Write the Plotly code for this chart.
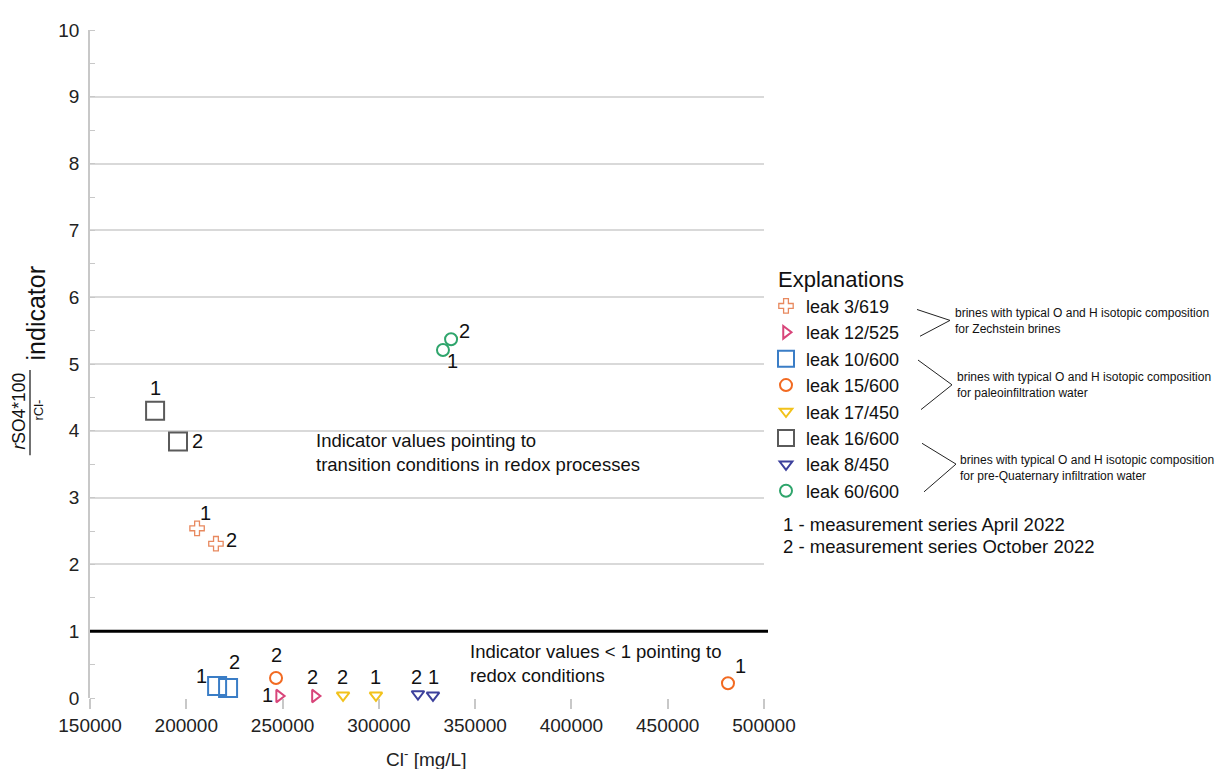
import plotly.graph_objects as go

# ---- data ----
leaks = ["leak 3/619", "leak 12/525", "leak 10/600", "leak 15/600",
         "leak 17/450", "leak 16/600", "leak 8/450", "leak 60/600"]
# measurement series 1 (April 2022)
cl_april = [205600, 248200, 216000, 481300, 298500, 183800, 328100, 333300]
ind_april = [2.54, 0.03, 0.18, 0.22, 0.04, 4.30, 0.04, 5.21]
# measurement series 2 (October 2022)
cl_october = [215400, 266800, 221700, 246600, 281400, 195700, 320300, 337500]
ind_october = [2.31, 0.03, 0.15, 0.30, 0.04, 3.84, 0.06, 5.37]
series_labels = ["1", "2"]
x_ticks = [150000, 200000, 250000, 300000, 350000, 400000, 450000, 500000]
y_ticks = list(range(0, 11))

# ---- styles ----
symbols = ["cross-open", "triangle-right-open", "square-open", "circle-open",
           "triangle-down-open", "square-open", "triangle-down-open", "circle-open"]
colors = ["#E8895F", "#D8457A", "#3A7DC6", "#F26A21",
          "#F2C21B", "#5A5A5A", "#3C409C", "#2FA56C"]
sizes = [12, 11, 18, 12, 11, 18, 11, 12]
lwidths = [1.3, 2, 2, 2, 2, 2, 2, 2]
# label offsets in px (dx, dy screen-down) for series 1 and 2
off1 = [(8, -15), (-12, -1), (-16, -10), (13, -17), (0, -18), (0, -23), (1, -18), (10, 11)]
off2 = [(16, -4), (-2, -19), (6, -26), (0, -23), (-1, -18), (19, 0), (-1, -17), (13, -8)]

FONT = "Liberation Sans, Arial, sans-serif"
OFF = 8  # page body margin
W, H = 1224 - OFF, 769 - OFF
L, T = 90 - OFF, 24 - OFF
PW, PH = 674, 674
R, B = W - L - PW, H - T - PH


def px(x):
    # page pixel x -> paper coordinate
    return (x - OFF - L) / PW


def py(y):
    # page pixel y -> paper coordinate
    return (T + PH - (y - OFF)) / PH


fig = go.Figure()
annotations = []
for i, name in enumerate(leaks):
    fig.add_trace(go.Scatter(
        x=[cl_april[i], cl_october[i]], y=[ind_april[i], ind_october[i]],
        mode="markers", name=name, legendgroup=name, cliponaxis=False,
        marker=dict(symbol=symbols[i], size=sizes[i], color=colors[i],
                    line=dict(color=colors[i], width=lwidths[i])),
    ))
    for (xv, yv, lab, off) in [(cl_april[i], ind_april[i], series_labels[0], off1[i]),
                               (cl_october[i], ind_october[i], series_labels[1], off2[i])]:
        annotations.append(dict(x=xv, y=yv, xref="x", yref="y", text=lab,
                                showarrow=False, xshift=off[0], yshift=-off[1],
                                font=dict(family=FONT, size=20, color="#111")))

# threshold line
shapes = [dict(type="line", xref="paper", yref="y", x0=0, x1=px(768), y0=1, y1=1,
               line=dict(color="black", width=3))]

# text annotations in plot
annotations += [
    dict(xref="paper", yref="paper", x=px(314), y=py(450), xanchor="left", yanchor="middle",
         align="left", showarrow=False,
         text="Indicator values pointing to<br>transition conditions in redox processes",
         font=dict(family=FONT, size=18.5, color="#111")),
    dict(xref="paper", yref="paper", x=px(468), y=py(663), xanchor="left", yanchor="middle",
         align="left", showarrow=False,
         text="Indicator values < 1 pointing to<br>redox conditions",
         font=dict(family=FONT, size=18.5, color="#111")),
]

# y-axis title as fraction
annotations += [
    dict(xref="paper", yref="paper", x=px(19), y=py(409), textangle=-90, showarrow=False,
         xanchor="center", yanchor="middle", text="<i>r</i>SO4*100",
         font=dict(family=FONT, size=17.5, color="#111")),
    dict(xref="paper", yref="paper", x=px(39), y=py(408), textangle=-90, showarrow=False,
         xanchor="center", yanchor="middle", text="rCl-",
         font=dict(family=FONT, size=13, color="#111")),
    dict(xref="paper", yref="paper", x=px(36), y=py(310), textangle=-90, showarrow=False,
         xanchor="center", yanchor="middle", text="indicator",
         font=dict(family=FONT, size=25, color="#111")),
]
shapes.append(dict(type="line", xref="paper", yref="paper", x0=px(30), x1=px(30),
                   y0=py(367), y1=py(453), line=dict(color="#111", width=1.2)))

# x-axis title
annotations.append(dict(xref="paper", yref="paper", x=px(426), y=py(759), showarrow=False,
                        xanchor="center", yanchor="middle", text="Cl<sup>-</sup> [mg/L]",
                        font=dict(family=FONT, size=19, color="#222")))

# legend extras
annotations.append(dict(xref="paper", yref="paper", x=px(776), y=py(276), showarrow=False,
                        xanchor="left", yanchor="middle", text="Explanations",
                        font=dict(family=FONT, size=22, color="#111")))
annotations += [
    dict(xref="paper", yref="paper", x=px(781), y=py(523), showarrow=False, xanchor="left",
         yanchor="middle", text="1 - measurement series April 2022",
         font=dict(family=FONT, size=18.5, color="#111")),
    dict(xref="paper", yref="paper", x=px(781), y=py(545), showarrow=False, xanchor="left",
         yanchor="middle", text="2 - measurement series October 2022",
         font=dict(family=FONT, size=18.5, color="#111")),
]
brackets = [((917, 306), (950, 317), (920, 333), 953, 318,
             "brines with typical O and H isotopic composition<br>for Zechstein brines"),
            ((918, 357), (952, 382), (921, 407), 955, 382,
             "brines with typical O and H isotopic composition<br>for paleoinfiltration water"),
            ((922, 441), (956, 462), (924, 490), 958, 466,
             "brines with typical O and H isotopic composition<br>for pre-Quaternary infiltration water")]
for a, b, c, tx, ty, txt in brackets:
    shapes.append(dict(type="path", xref="paper", yref="paper",
                       path=f"M {px(a[0])} {py(a[1])} L {px(b[0])} {py(b[1])} L {px(c[0])} {py(c[1])}",
                       line=dict(color="#222", width=1)))
    annotations.append(dict(xref="paper", yref="paper", x=px(tx), y=py(ty), showarrow=False,
                            xanchor="left", yanchor="middle", align="left", text=txt,
                            font=dict(family=FONT, size=12, color="#111")))

fig.update_layout(
    width=W, height=H,
    margin=dict(l=L, r=R, t=T, b=B),
    plot_bgcolor="white", paper_bgcolor="white",
    font=dict(family=FONT, color="#222"),
    showlegend=True,
    legend=dict(x=px(766), y=py(284), xanchor="left", yanchor="top",
                font=dict(family=FONT, size=18, color="#111"),
                tracegroupgap=0, itemsizing="trace", bgcolor="rgba(0,0,0,0)"),
    shapes=shapes, annotations=annotations,
)
fig.update_xaxes(range=[150000, 500000], tickvals=x_ticks,
                 ticktext=[str(v) for v in x_ticks],
                 ticks="outside", ticklen=10, tickcolor="#c8c8c8", tickwidth=1.5,
                 showgrid=False, zeroline=False, showline=False,
                 tickfont=dict(family=FONT, size=19, color="#222"))
fig.update_yaxes(range=[0, 10], tickvals=y_ticks, ticks="", showgrid=True,
                 gridcolor="#d9d9d9", gridwidth=1.5, zeroline=False,
                 showline=True, linecolor="#c8c8c8", linewidth=1.5,
                 minor=dict(dtick=0.5, ticks="inside", ticklen=5, tickcolor="#c8c8c8", showgrid=False),
                 tickfont=dict(family=FONT, size=19, color="#222"), ticklabelstandoff=5)

fig.write_html("out.html")
